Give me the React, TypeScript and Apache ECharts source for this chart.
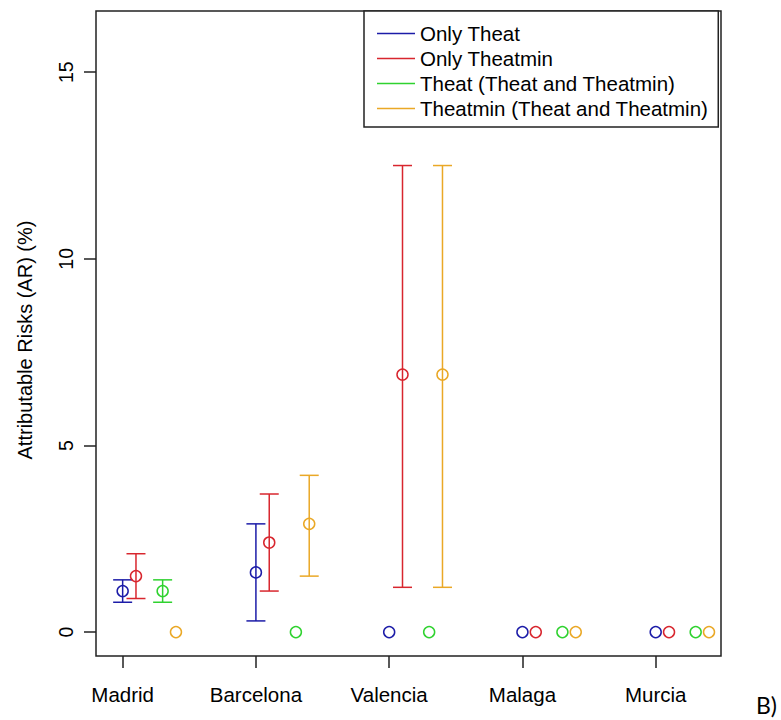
import React, { useEffect, useRef } from "react";
import * as echarts from "echarts";

const cities = ["Madrid", "Barcelona", "Valencia", "Malaga", "Murcia"];
const seriesNames = [
  "Only Theat",
  "Only Theatmin",
  "Theat (Theat and Theatmin)",
  "Theatmin (Theat and Theatmin)",
];
const seriesColors = ["#1c1ca8", "#d8262e", "#2fd22f", "#eaa826"];
const groupOffsets = [0, 0.1, 0.3, 0.4];

const onlyTheatEst = [1.1, 1.6, 0, 0, 0];
const onlyTheatLow = [0.8, 0.3, null, null, null];
const onlyTheatHigh = [1.4, 2.9, null, null, null];

const onlyTheatminEst = [1.5, 2.4, 6.9, 0, 0];
const onlyTheatminLow = [0.9, 1.1, 1.2, null, null];
const onlyTheatminHigh = [2.1, 3.7, 12.5, null, null];

const theatBothEst = [1.1, 0, 0, 0, 0];
const theatBothLow = [0.8, null, null, null, null];
const theatBothHigh = [1.4, null, null, null, null];

const theatminBothEst = [0, 2.9, 6.9, 0, 0];
const theatminBothLow = [null, 1.5, 1.2, null, null];
const theatminBothHigh = [null, 4.2, 12.5, null, null];

const yTicks = [0, 5, 10, 15];
const xTicks = [1, 2, 3, 4, 5];

const estimates = [onlyTheatEst, onlyTheatminEst, theatBothEst, theatminBothEst];
const lows = [onlyTheatLow, onlyTheatminLow, theatBothLow, theatminBothLow];
const highs = [onlyTheatHigh, onlyTheatminHigh, theatBothHigh, theatminBothHigh];

const FONT = "Liberation Sans";

export default function App() {
  const ref = useRef<HTMLDivElement>(null);

  useEffect(() => {
    document.body.style.margin = "0";
    if (!ref.current) return;
    const chart = echarts.init(ref.current, undefined, { renderer: "svg" });

    const errorSeries: any[] = seriesNames.map((name, s) => {
      const color = seriesColors[s];
      const data: any[] = [];
      cities.forEach((_, i) => {
        const lo = lows[s][i];
        const hi = highs[s][i];
        if (lo !== null && hi !== null) {
          data.push([i + 1 + groupOffsets[s], lo, hi]);
        }
      });
      return {
        type: "custom",
        name,
        silent: true,
        itemStyle: { color },
        encode: { x: 0, y: [1, 2] },
        data,
        renderItem: (params: any, api: any) => {
          const x = api.value(0);
          const pLo = api.coord([x, api.value(1)]);
          const pHi = api.coord([x, api.value(2)]);
          const w = 9.5;
          const style = { stroke: color, lineWidth: 1.5, fill: "none" };
          return {
            type: "group",
            children: [
              { type: "line", shape: { x1: pLo[0], y1: pLo[1], x2: pHi[0], y2: pHi[1] }, style },
              { type: "line", shape: { x1: pLo[0] - w, y1: pLo[1], x2: pLo[0] + w, y2: pLo[1] }, style },
              { type: "line", shape: { x1: pHi[0] - w, y1: pHi[1], x2: pHi[0] + w, y2: pHi[1] }, style },
            ],
          };
        },
      };
    });

    const pointSeries: any[] = seriesNames.map((name, s) => ({
      type: "scatter",
      name,
      silent: true,
      symbol: "circle",
      symbolSize: 11,
      itemStyle: {
        color: "rgba(0,0,0,0)",
        borderColor: seriesColors[s],
        borderWidth: 1.5,
        opacity: 1,
      },
      data: cities.map((_, i) => [i + 1 + groupOffsets[s], estimates[s][i]]),
    }));

    chart.setOption({
      animation: false,
      grid: {
        left: 96,
        right: 60,
        top: 11,
        bottom: 64,
        show: true,
        borderColor: "#222",
        borderWidth: 1.5,
        backgroundColor: "#fff",
      },
      legend: {
        orient: "vertical",
        left: 364,
        top: 11,
        padding: [12, 10, 8, 13],
        itemGap: 4,
        itemWidth: 38,
        itemHeight: 1.5,
        icon: "rect",
        borderColor: "#222",
        borderWidth: 1.5,
        backgroundColor: "#fff",
        selectedMode: false,
        textStyle: { fontFamily: FONT, fontSize: 20.5, color: "#000", lineHeight: 20 },
        data: seriesNames.map((name, s) => ({
          name,
          icon: "rect",
          itemStyle: { color: seriesColors[s], borderWidth: 0 },
        })),
      },
      xAxis: {
        type: "value",
        min: 0.8,
        max: 5.49,
        position: "bottom",
        axisLine: { show: false, onZero: false },
        splitLine: { show: false },
        axisTick: {
          show: true,
          customValues: xTicks,
          length: 12,
          lineStyle: { color: "#222", width: 1.5 },
        },
        axisLabel: {
          customValues: xTicks,
          margin: 28,
          fontFamily: FONT,
          fontSize: 20.5,
          color: "#000",
          formatter: (v: number) => cities[Math.round(v) - 1] ?? "",
        },
      },
      yAxis: {
        type: "value",
        min: -0.64,
        max: 16.64,
        position: "left",
        name: "Attributable Risks (AR) (%)",
        nameLocation: "middle",
        nameGap: 61,
        nameRotate: 90,
        nameTextStyle: { fontFamily: FONT, fontSize: 20, color: "#000", padding: [0, 13, 0, 0] },
        axisLine: { show: false, onZero: false },
        splitLine: { show: false },
        axisTick: {
          show: true,
          customValues: yTicks,
          length: 12,
          lineStyle: { color: "#222", width: 1.5 },
        },
        axisLabel: {
          customValues: yTicks,
          rotate: 90,
          margin: 20,
          fontFamily: FONT,
          fontSize: 19.5,
          color: "#000",
        },
      },
      graphic: [
        {
          type: "text",
          left: 756,
          top: 693,
          style: { text: "B)", fontFamily: "Lato", fontSize: 23, fill: "#000" },
        },
      ],
      series: [...errorSeries, ...pointSeries],
    });

    return () => chart.dispose();
  }, []);

  return (
    <div
      ref={ref}
      style={{ width: 781, height: 720, position: "absolute", left: 0, top: 0 }}
    />
  );
}
